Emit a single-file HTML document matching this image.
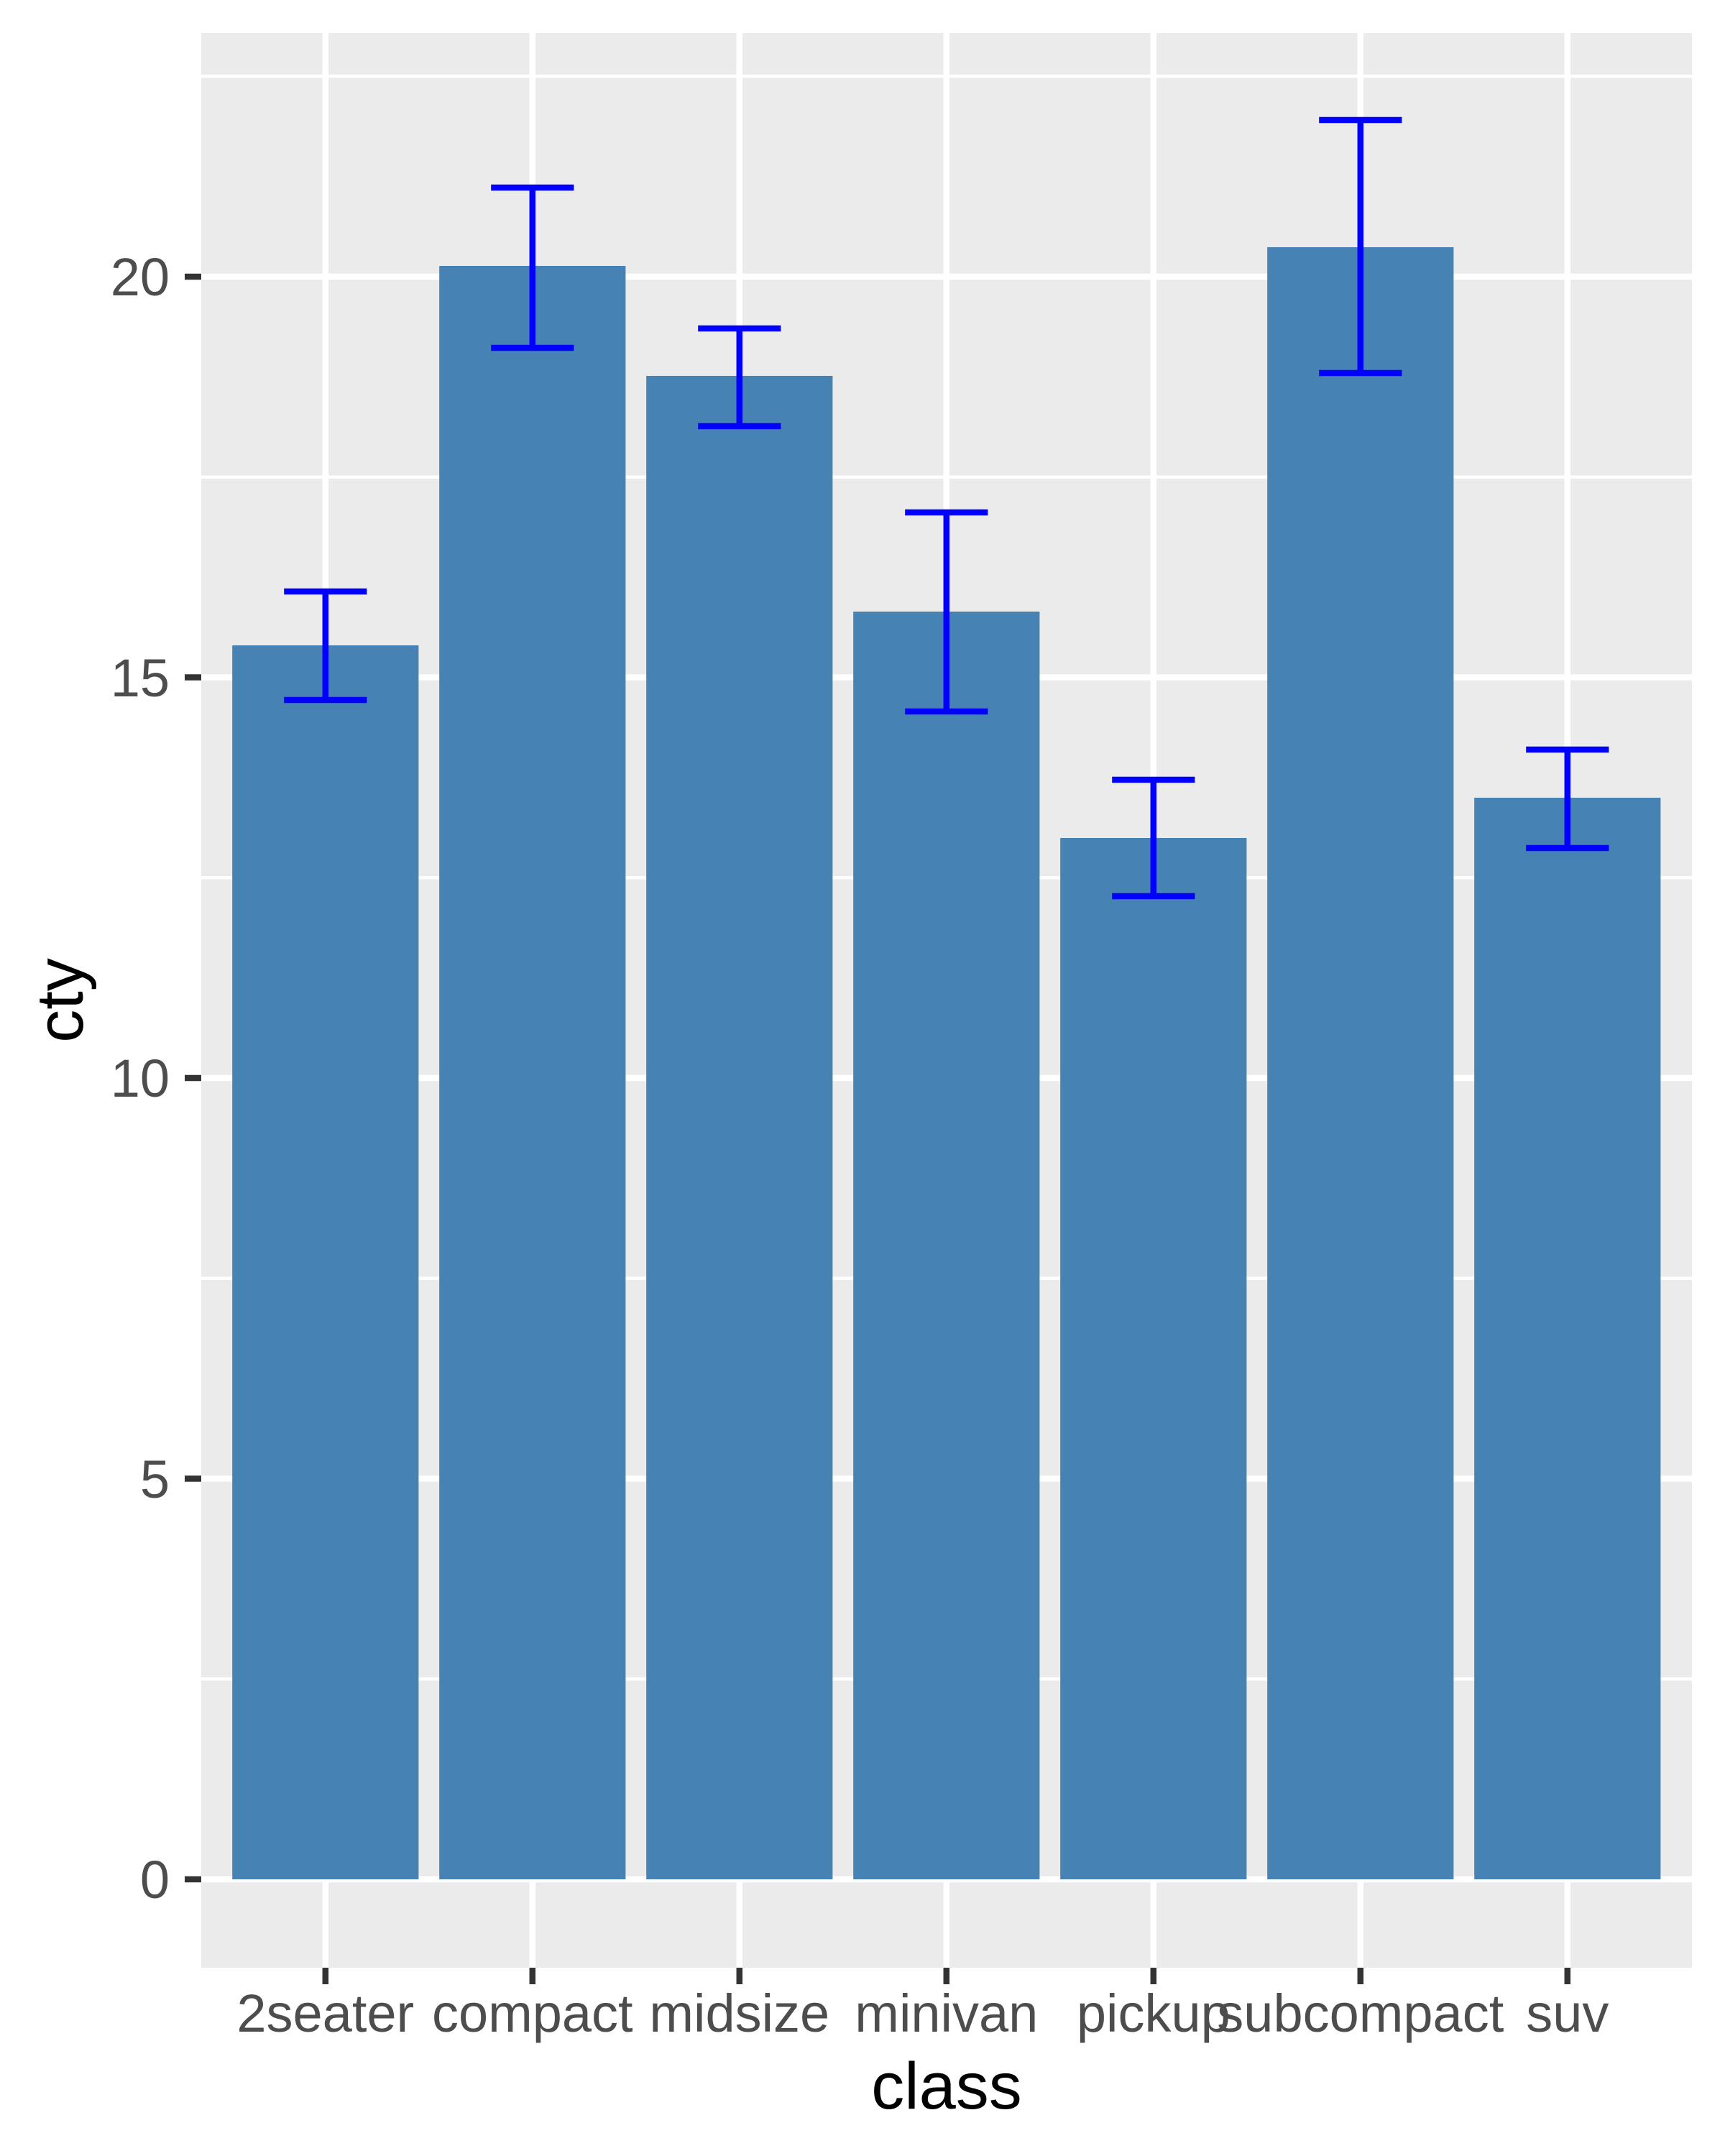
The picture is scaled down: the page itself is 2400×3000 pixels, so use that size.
<!DOCTYPE html>
<html><head><meta charset="utf-8"><style>html,body{margin:0;padding:0;background:#fff}svg{display:block}</style></head>
<body>
<svg width="2400" height="3000" viewBox="0 0 2400 3000" xmlns="http://www.w3.org/2000/svg" font-family="Liberation Sans, Arial, sans-serif">
<rect x="0" y="0" width="2400" height="3000" fill="#fff"/>
<rect x="280" y="46" width="2074" height="2692" fill="#EBEBEB"/>
<g stroke="#fff" stroke-width="4.5">
<line x1="280" x2="2354" y1="2336.25" y2="2336.25"/>
<line x1="280" x2="2354" y1="2057.5" y2="2057.5"/>
<line x1="280" x2="2354" y1="1778.75" y2="1778.75"/>
<line x1="280" x2="2354" y1="1500" y2="1500"/>
<line x1="280" x2="2354" y1="1221.25" y2="1221.25"/>
<line x1="280" x2="2354" y1="942.5" y2="942.5"/>
<line x1="280" x2="2354" y1="663.75" y2="663.75"/>
<line x1="280" x2="2354" y1="106" y2="106"/>
</g>
<g stroke="#fff" stroke-width="8.5">
<line x1="280" x2="2354" y1="2615" y2="2615"/>
<line x1="280" x2="2354" y1="2057.5" y2="2057.5"/>
<line x1="280" x2="2354" y1="1500" y2="1500"/>
<line x1="280" x2="2354" y1="942.5" y2="942.5"/>
<line x1="280" x2="2354" y1="385" y2="385"/>
<line y1="46" y2="2738" x1="452.8" x2="452.8"/>
<line y1="46" y2="2738" x1="740.8" x2="740.8"/>
<line y1="46" y2="2738" x1="1028.8" x2="1028.8"/>
<line y1="46" y2="2738" x1="1316.8" x2="1316.8"/>
<line y1="46" y2="2738" x1="1604.8" x2="1604.8"/>
<line y1="46" y2="2738" x1="1892.8" x2="1892.8"/>
<line y1="46" y2="2738" x1="2180.8" x2="2180.8"/>
</g>
<g fill="#4682B4">
<rect x="323.2" width="259.2" y="898" height="1717"/>
<rect x="611.2" width="259.2" y="370" height="2245"/>
<rect x="899.2" width="259.2" y="523" height="2092"/>
<rect x="1187.2" width="259.2" y="851" height="1764"/>
<rect x="1475.2" width="259.2" y="1166" height="1449"/>
<rect x="1763.2" width="259.2" y="344" height="2271"/>
<rect x="2051.2" width="259.2" y="1110" height="1505"/>
</g>
<g stroke="#0000FF" stroke-width="8.5" fill="none">
<path d="M395.2 823H510.4M452.8 823V974M395.2 974H510.4"/>
<path d="M683.2 261H798.4M740.8 261V484M683.2 484H798.4"/>
<path d="M971.2 457H1086.4M1028.8 457V593M971.2 593H1086.4"/>
<path d="M1259.2 713H1374.4M1316.8 713V990M1259.2 990H1374.4"/>
<path d="M1547.2 1085H1662.4M1604.8 1085V1247M1547.2 1247H1662.4"/>
<path d="M1835.2 167H1950.4M1892.8 167V519M1835.2 519H1950.4"/>
<path d="M2123.2 1043H2238.4M2180.8 1043V1180M2123.2 1180H2238.4"/>
</g>
<g stroke="#333" stroke-width="8.5">
<line x1="257" x2="280" y1="2615" y2="2615"/>
<line x1="257" x2="280" y1="2057.5" y2="2057.5"/>
<line x1="257" x2="280" y1="1500" y2="1500"/>
<line x1="257" x2="280" y1="942.5" y2="942.5"/>
<line x1="257" x2="280" y1="385" y2="385"/>
<line y1="2738" y2="2761" x1="452.8" x2="452.8"/>
<line y1="2738" y2="2761" x1="740.8" x2="740.8"/>
<line y1="2738" y2="2761" x1="1028.8" x2="1028.8"/>
<line y1="2738" y2="2761" x1="1316.8" x2="1316.8"/>
<line y1="2738" y2="2761" x1="1604.8" x2="1604.8"/>
<line y1="2738" y2="2761" x1="1892.8" x2="1892.8"/>
<line y1="2738" y2="2761" x1="2180.8" x2="2180.8"/>
</g>
<g fill="#4D4D4D" font-size="74" text-anchor="end">
<text x="236" y="2641">0</text>
<text x="236" y="2084">5</text>
<text x="236" y="1526">10</text>
<text x="236" y="969">15</text>
<text x="236" y="411">20</text>
</g>
<g fill="#4D4D4D" font-size="74" text-anchor="middle">
<text x="452.8" y="2827">2seater</text>
<text x="740.8" y="2827">compact</text>
<text x="1028.8" y="2827">midsize</text>
<text x="1316.8" y="2827">minivan</text>
<text x="1604.8" y="2827">pickup</text>
<text x="1892.8" y="2827">subcompact</text>
<text x="2180.8" y="2827">suv</text>
</g>
<text x="1317" y="2934" font-size="92" text-anchor="middle" fill="#000">class</text>
<text transform="translate(115,1392) rotate(-90)" font-size="92" text-anchor="middle" fill="#000">cty</text>
</svg>
</body></html>
